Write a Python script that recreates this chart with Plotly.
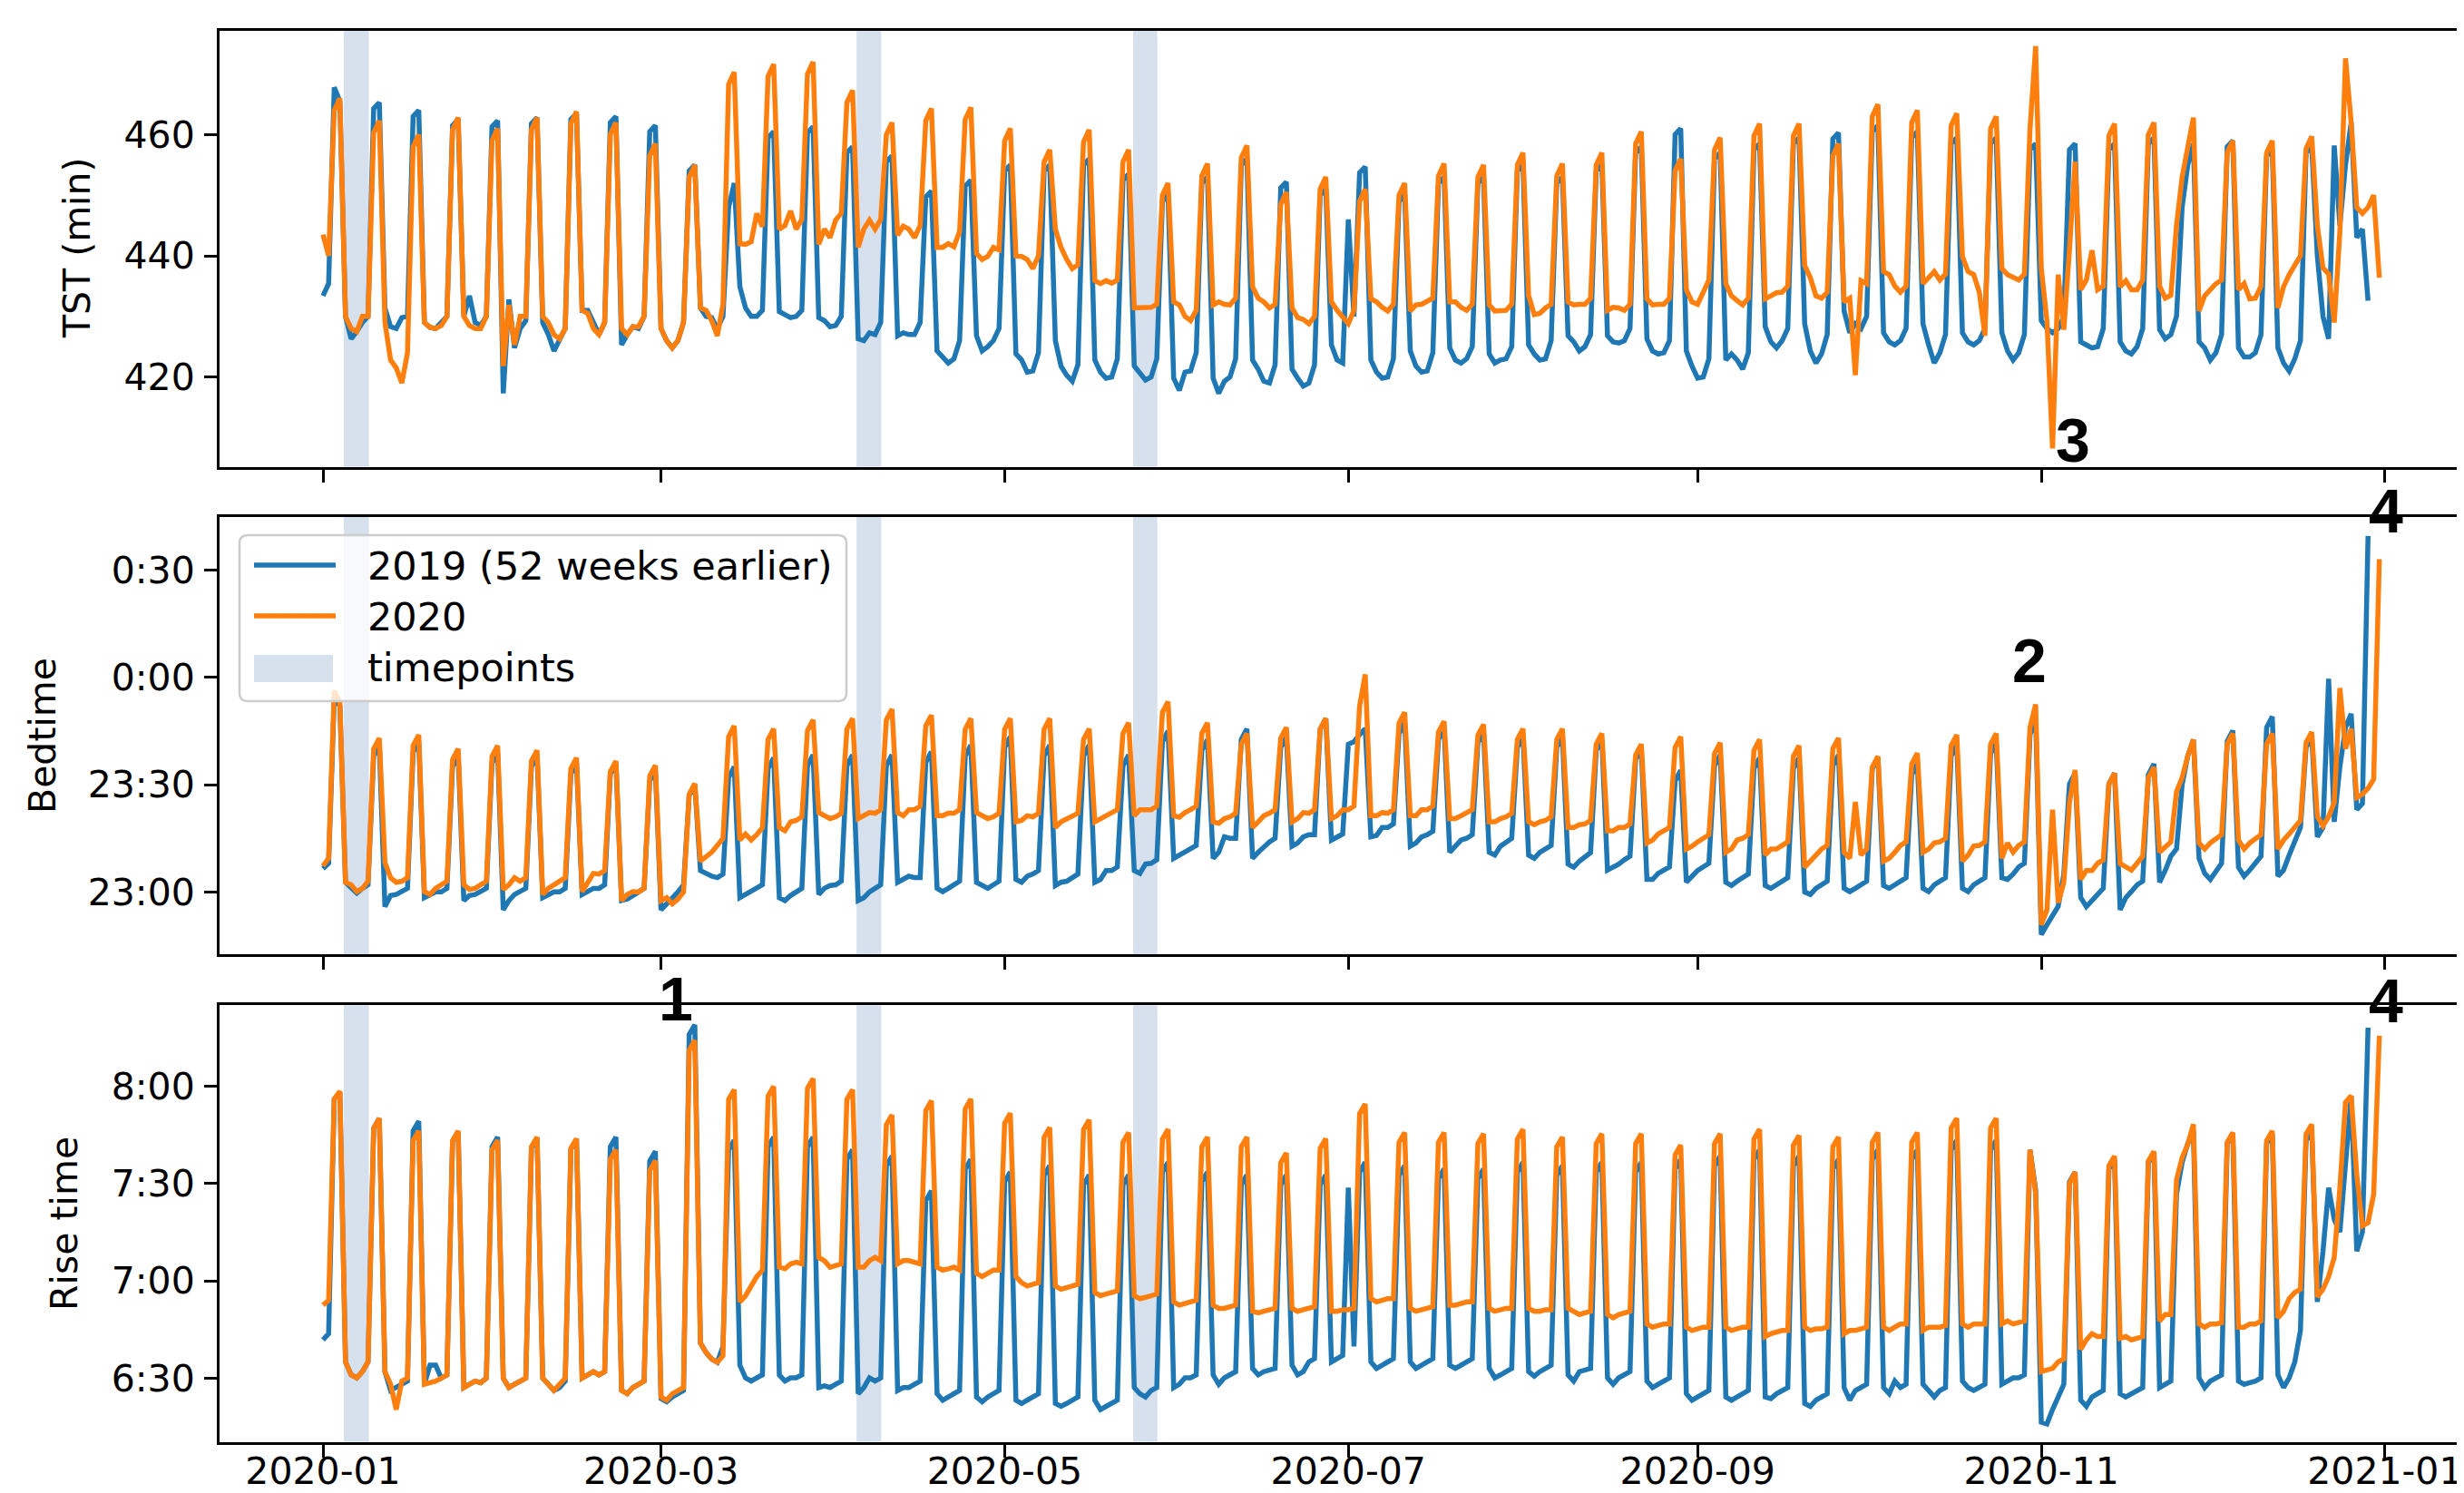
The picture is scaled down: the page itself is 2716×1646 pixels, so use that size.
import pandas as pd
import plotly.graph_objects as go

# ---------------- data (daily values, one row per week: Wed..Tue, starting 2020-01-01) -------------
START = "2020-01-01"

TST_2019 = [
    [433.4, 435.4, 467.8, 465.5, 430, 426.3, 427.5],
    [429, 430, 464.3, 465.3, 431.4, 428.3, 428],
    [429.8, 430, 463, 464, 429, 428.2, 428],
    [429, 430, 461.5, 462.5, 430, 433.4, 429],
    [428.5, 430, 461.3, 462.3, 417.3, 432.8, 424.8],
    [428, 429.3, 461.8, 462.8, 429, 427, 424.3],
    [426, 428, 462.5, 463.5, 431, 431, 429],
    [427, 429, 462, 463, 425.3, 427, 428.3],
    [428, 430, 460.5, 461.5, 428, 426, 424.8],
    [426, 429, 454, 455, 431.4, 430, 429.8],
    [428, 430, 448, 452, 434.9, 431.4, 430],
    [430, 431, 459.5, 460.5, 430.8, 430.3, 429.8],
    [430, 431, 460.3, 461.3, 429.8, 429.3, 428.3],
    [428.5, 430, 457, 458, 426.3, 426, 427.3],
    [427, 429, 455.5, 456.5, 426.8, 427.3, 427],
    [427, 429, 449.7, 450.7, 424.3, 423.3, 422.3],
    [423, 426, 451.5, 452.5, 426.8, 424.3, 425],
    [426, 428, 454, 455, 423.8, 422.8, 420.8],
    [421, 424, 454, 455, 426, 421.8, 420.3],
    [419.3, 422, 455, 456, 422.8, 420.8, 419.8],
    [420, 423, 452.5, 453.5, 421.8, 420.8, 419.5],
    [420, 423, 449, 450, 419.8, 417.8, 420.8],
    [421, 424, 452, 453, 419.8, 417.3, 419.3],
    [420, 423, 455, 456, 422.8, 421.3, 419.3],
    [419, 422, 451.2, 452.2, 421.3, 419.8, 418.5],
    [419, 422, 450, 451, 425.3, 422.8, 422.3],
    [446, 430, 453.7, 454.7, 422.8, 420.8, 419.8],
    [420, 423, 449, 450, 424.3, 421.8, 420.8],
    [421, 424, 452, 453, 424.8, 422.8, 422.3],
    [423, 425, 452, 453, 423.8, 422.3, 422.8],
    [423, 425, 454, 455, 425.3, 423.8, 422.8],
    [423, 426, 452, 453, 426.8, 425.8, 424.3],
    [425, 427, 454, 455, 426.8, 425.8, 425.6],
    [426, 428, 457, 458, 426.3, 424.3, 423.8],
    [424, 426, 460, 461, 424.3, 421.8, 419.8],
    [420, 423, 456, 457, 422.8, 423.8, 422.8],
    [421.3, 424, 457.5, 458.5, 428.3, 425.8, 424.8],
    [426, 428, 458.5, 459.5, 428.8, 424.3, 422.3],
    [423.8, 427, 459.3, 460.3, 430.9, 427.3, 428.8],
    [428, 430, 460.5, 461.5, 427.3, 425.8, 425.3],
    [426, 428, 459.5, 460.5, 428.8, 425.3, 422.3],
    [424, 427, 458.5, 459.5, 427.3, 425.8, 425.3],
    [426, 428, 458.5, 459.5, 427.3, 424.3, 422.8],
    [424, 427, 457.5, 458.5, 429.3, 428, 427.3],
    [428, 430, 457.5, 458.5, 425.8, 425.3, 424.8],
    [425, 428, 457.5, 458.5, 425.8, 424.3, 423.8],
    [425, 428, 458.5, 459.5, 427.8, 426.3, 427],
    [430, 448, 455, 458.5, 425.8, 424.8, 422.8],
    [424, 427, 458, 459, 424.8, 423.3, 423.3],
    [424, 427, 456.5, 457.5, 424.8, 422.3, 421],
    [423, 426, 457, 458, 440, 430, 426.3],
    [458.2, 445, 455, 462, 443, 444.4, 432.6],
]

TST_2020 = [
    [443.5, 440, 464, 466, 430, 428, 427.5],
    [430, 430, 460.3, 462.3, 429, 422.8, 421.5],
    [419, 424, 458, 460, 429, 428.2, 428],
    [428.5, 430, 460.8, 462.8, 430, 428.5, 428],
    [428, 430, 459, 461, 421.8, 431.9, 425.3],
    [430, 430, 460.8, 462.8, 430, 429, 427],
    [426.3, 428, 461.8, 463.8, 431, 430.5, 428],
    [427, 429, 460, 462, 428, 427, 428.3],
    [428.3, 430, 456.5, 458.5, 428, 426, 424.8],
    [426, 429, 453, 455, 431.4, 431, 429.3],
    [426.8, 432, 468.3, 470.3, 442, 441.9, 442.3],
    [447, 444.8, 469.6, 471.6, 444.4, 445, 447.4],
    [444.4, 446, 470, 472, 441.9, 444.4, 443],
    [445.9, 447, 465.3, 467.3, 441.4, 444.4, 445.9],
    [444.4, 446, 460, 462, 443.4, 444.9, 444.4],
    [443, 445, 462.3, 464.3, 441.4, 441.4, 442],
    [441.5, 444, 462.5, 464.5, 440.4, 439.4, 439.9],
    [441.4, 441, 459, 461, 440, 439.9, 439.4],
    [437.9, 440, 455.5, 457.5, 444.4, 441.4, 439.4],
    [437.9, 438.5, 458.8, 460.8, 435.9, 435.4, 435.9],
    [435.5, 436, 455.5, 457.5, 431.4, 431.4, 431.6],
    [431.5, 432, 450, 452, 432.4, 431.9, 430],
    [429.3, 431, 453.2, 455.2, 431.9, 432.4, 432],
    [431.9, 433, 456.2, 458.2, 434.9, 433, 432.4],
    [431.4, 432, 448.5, 450.5, 431.4, 429.8, 429.5],
    [428.8, 430, 451, 453, 432.4, 431, 430],
    [428.8, 431, 449, 451, 432.9, 432.4, 431.5],
    [430.9, 432, 450, 452, 430.9, 431.9, 432],
    [432.4, 433, 453.2, 455.2, 432.4, 432.4, 431.5],
    [431, 432, 453, 455, 431.9, 430.9, 431],
    [431, 432, 455, 457, 433.4, 430.3, 430.5],
    [431.4, 432, 453.2, 455.2, 432.4, 431.9, 432],
    [432, 433, 455, 457, 431, 431.5, 431.4],
    [431, 432, 458.5, 460.5, 432.9, 431.9, 432],
    [432, 433, 454, 456, 434.4, 432.4, 432],
    [434, 436, 457.5, 459.5, 435.4, 433.4, 432.6],
    [431.9, 433, 459.8, 461.8, 432.9, 433.4, 433.9],
    [434, 435, 459.8, 461.8, 438.4, 436.4, 433.4],
    [433, 434, 456.5, 458.5, 432.4, 433, 420.3],
    [435.9, 435.4, 463, 465, 437.4, 436.9, 435],
    [434, 435, 462, 464, 435.4, 436.4, 437.4],
    [436, 437, 461.5, 463.5, 439.9, 437.4, 436.9],
    [434, 426.8, 461, 463, 437.9, 436.9, 436.4],
    [436, 437, 461, 474.6, 437.9, 429.3, 408.2],
    [436.9, 427.8, 441, 455.5, 434.4, 436, 440.9],
    [434.4, 435, 459.8, 461.8, 434.9, 435.9, 434.4],
    [434.4, 436, 460, 462, 435, 433, 433.5],
    [445, 453, 458, 462.8, 430.9, 433.4, 434.4],
    [435.4, 436, 457, 459, 434.4, 435.4, 432.9],
    [433, 435, 457, 459, 431.4, 434.9, 436.9],
    [438.4, 440, 457.7, 459.7, 445, 438, 437],
    [429, 444, 472.6, 462, 448, 447, 448],
    [450, 436.4],
]

# bedtime in minutes relative to midnight (negative = before 0:00)
BED_2019 = [
    [-53.5, -52, -6, -8, -57.3, -59, -60.3],
    [-59, -58, -22, -19, -64.1, -61, -60.7],
    [-60, -59, -21, -18, -61.6, -60.7, -60],
    [-60, -59, -25, -22, -62.4, -61, -60.7],
    [-60, -59, -24, -21, -65, -62.4, -60.7],
    [-60, -59, -25, -22, -61.6, -60.7, -60],
    [-60, -59, -27, -24, -60.7, -59.9, -59],
    [-59, -58, -27, -24, -62.4, -62, -61],
    [-60, -59, -29, -26, -65, -63.3, -62],
    [-60, -58, -33, -30, -54, -54.8, -55.6],
    [-56, -55, -28, -25, -61.6, -60.7, -60],
    [-59, -58, -25.5, -22.5, -61.6, -62.4, -61],
    [-60, -59, -24.7, -21.7, -60.7, -59, -58.2],
    [-58, -57, -24.7, -21.7, -62.4, -61.6, -60],
    [-59, -58, -24.7, -21.7, -57.3, -56.5, -55.6],
    [-56, -56, -23.8, -20.8, -59, -59.9, -59],
    [-58, -57, -22, -19, -57.3, -58.2, -59],
    [-58, -57, -19.6, -16.6, -56.5, -57.3, -55.6],
    [-55, -54, -22, -19, -58.2, -57.3, -57],
    [-56, -55, -22, -19, -57.3, -56.5, -54],
    [-54, -53, -24.7, -21.7, -54, -54.8, -52.2],
    [-52, -51, -18, -15, -50.6, -49.7, -48.9],
    [-48, -47, -20.4, -17.4, -50.6, -48.9, -44.6],
    [-45, -45, -17.4, -14.4, -50.6, -48.9, -47.2],
    [-46, -45, -19.6, -16.6, -47.2, -46.3, -44.6],
    [-44, -44, -14.5, -11.5, -45.5, -44.6, -43.8],
    [-18.7, -18, -16, -14.4, -44.6, -44.2, -42],
    [-42, -41, -15.7, -12.7, -47.2, -46.3, -44.6],
    [-44, -43, -17.4, -14.4, -48.9, -47.2, -45.5],
    [-45, -44, -18.3, -15.3, -48.9, -49.7, -47.2],
    [-46, -45, -19.6, -16.6, -49.7, -50.6, -48.9],
    [-48, -47, -19.6, -16.6, -52.2, -53.1, -51.4],
    [-50, -49, -20.4, -17.4, -53.9, -53.1, -52.2],
    [-51, -50, -23, -20, -56.5, -56.5, -54.8],
    [-54, -53, -29, -26, -57.3, -55.6, -54],
    [-53, -52, -24.7, -21.7, -57.3, -58.2, -57],
    [-56, -55, -25.5, -22.5, -58.2, -59, -58],
    [-57, -56, -25.5, -22.5, -60, -60.7, -59],
    [-58, -57, -24.7, -21.7, -59, -59.9, -59],
    [-58, -57, -25.5, -22.5, -58.2, -59, -58],
    [-57, -56, -27.2, -24.2, -59, -59.9, -58],
    [-57, -56, -22, -19, -59, -59.9, -58],
    [-57, -56, -21.3, -18.3, -56, -56.5, -55],
    [-53, -52, -16, -11.5, -71.9, -69.2, -66.7],
    [-64, -55, -29.8, -26.8, -61.6, -64.1, -62.4],
    [-61, -59, -29.8, -26.8, -65, -61.6, -59.9],
    [-58, -57, -27.2, -24.2, -57.3, -54, -50],
    [-48, -30, -22, -17.4, -50.6, -54.8, -56.5],
    [-54, -52, -17.9, -14.9, -53.1, -55.6, -53.9],
    [-52, -50, -14, -11, -55.6, -53.9, -49.7],
    [-45.5, -42, -19.6, -16.6, -44.6, -42, -0.4],
    [-40.4, -25, -14, -10.2, -37, -35.3, 39.5],
]

BED_2020 = [
    [-52.7, -50.6, -3.8, -7, -57.3, -58, -59.9],
    [-59, -57, -20, -17, -51.8, -56, -57.3],
    [-57, -56, -19.1, -16.1, -59.9, -60.7, -59],
    [-58, -57, -23, -20, -58, -59.3, -59],
    [-58, -57, -22.1, -19.1, -59.3, -58, -56],
    [-57, -56, -23.4, -20.4, -60.7, -59, -58],
    [-57, -56, -25.5, -22.5, -59.9, -57.3, -54.8],
    [-55, -54, -26.4, -23.4, -62.4, -60.7, -59.9],
    [-60, -59, -27.6, -24.6, -62.4, -61.6, -63.3],
    [-62, -60, -32.7, -29.7, -51.4, -50, -48.9],
    [-47, -45, -16.6, -13.6, -45.5, -43.8, -45.5],
    [-44, -42, -17.4, -14.4, -42, -42.9, -40.4],
    [-40, -39, -14.9, -11.9, -37.8, -38.7, -39.5],
    [-39, -38, -14.5, -11.5, -39.5, -38.7, -37.8],
    [-38, -37, -11.9, -8.9, -37.8, -38.7, -37],
    [-37, -36, -13.6, -10.6, -38.7, -38.7, -38],
    [-38, -37, -14.5, -11.5, -37.8, -38.7, -39.5],
    [-39, -38, -14.5, -11.5, -40.4, -40, -38.7],
    [-39, -38, -14.5, -11.5, -42, -40.4, -39.5],
    [-39, -38, -17.4, -14.4, -40.4, -39.5, -38.7],
    [-38, -37, -15.7, -12.7, -38.7, -37, -37],
    [-37, -36, -9.8, -6.8, -38.7, -39.1, -37.8],
    [-37, -36, -15.7, -12.7, -40.4, -40.8, -39.5],
    [-39, -38, -18.7, -15.7, -42, -40.4, -38.7],
    [-38, -37, -17, -14, -40.4, -39.5, -37.8],
    [-38, -37, -14.5, -11.5, -39.5, -38.7, -37],
    [-37, -36, -8, 0.8, -38.7, -38.7, -37.8],
    [-38, -37, -12.8, -9.8, -38.7, -38.7, -37],
    [-37, -36, -15.3, -12.3, -39.5, -39.5, -38.7],
    [-38, -37, -16.2, -13.2, -40.4, -40.4, -39.5],
    [-39, -38, -17.4, -14.4, -40.4, -41.2, -40.4],
    [-40, -39, -17.4, -14.4, -42, -42, -41.2],
    [-41, -40, -18.7, -15.7, -42.9, -42.9, -42],
    [-42, -41, -21.7, -18.7, -46.3, -45.5, -43.8],
    [-43, -42, -19.6, -16.6, -48, -47.2, -46],
    [-45, -44, -21.3, -18.3, -48.9, -48, -45.5],
    [-45, -44, -20.4, -17.4, -49.7, -48, -48],
    [-47, -46, -22.1, -19.1, -53.1, -51.4, -49.7],
    [-48, -47, -20, -17, -48.9, -50.6, -34.8],
    [-49.7, -48, -25.1, -22.1, -51.4, -50.6, -48.9],
    [-47, -46, -24.2, -21.2, -48.9, -48, -46.3],
    [-46, -45, -19.1, -16.1, -51.4, -49.7, -47.2],
    [-47, -46, -18.7, -15.7, -50.6, -46.3, -48.9],
    [-47, -46, -14, -7.6, -69.2, -65, -37],
    [-63, -57.3, -35, -25.9, -56.5, -54, -54],
    [-52, -51, -29.8, -26.8, -52.1, -53, -53.9],
    [-52, -50, -28.1, -25.1, -48.9, -47.2, -46],
    [-32, -28, -22, -17.4, -46.3, -48, -46.3],
    [-45, -44, -18.7, -15.7, -45.5, -48, -46.3],
    [-45, -44, -18.7, -15.7, -48, -45.5, -43.8],
    [-42, -40, -18.3, -15.3, -38.9, -41.5, -39],
    [-35, -3, -20, -14.4, -33.6, -32.7, -31],
    [-28.5, 33],
]

# rise time in minutes after midnight
RISE_2019 = [
    [401.8, 403.7, 476, 478, 395, 391, 390.1],
    [392, 395, 467, 470, 392, 386.2, 387.1],
    [388.1, 389.1, 466.2, 469.2, 388.1, 394, 394],
    [390, 391, 463, 466, 387.1, 388.1, 389.1],
    [388.6, 390, 461.3, 464.3, 390, 387.1, 388.1],
    [389.1, 390, 461, 464, 390, 388.1, 386.2],
    [387.1, 389.1, 460.5, 463.5, 390, 391, 392],
    [391, 392, 461.3, 464.3, 386.2, 385.2, 387.1],
    [388.1, 389.1, 456.9, 459.9, 383.7, 382.7, 384.2],
    [385.2, 386.2, 495.9, 498.9, 400.8, 397.9, 395.9],
    [394.9, 399.8, 460.3, 463.3, 394, 390.1, 389.1],
    [390.1, 391, 461.3, 464.3, 391, 389.1, 390.1],
    [390.1, 391, 461.3, 464.3, 387.1, 387.6, 387.1],
    [388.1, 389.1, 457.4, 460.4, 385.2, 387.1, 390.1],
    [389.1, 390.1, 455.4, 458.4, 386.2, 387.1, 387.1],
    [388.1, 389.1, 444.7, 447.7, 385.2, 383.2, 384.2],
    [385.2, 386.2, 454.4, 457.4, 384.2, 382.7, 384.2],
    [385.2, 386.2, 450.5, 453.5, 383.2, 382.2, 383.2],
    [384.2, 385.2, 452.5, 455.5, 382.2, 381.3, 382.2],
    [383.2, 384.2, 449.6, 452.6, 383.2, 380.3, 381.3],
    [382.2, 383.2, 449.6, 452.6, 387.1, 385.2, 384.2],
    [386.2, 387.1, 453.5, 456.5, 387.1, 388.1, 390.1],
    [390.1, 391, 450.5, 453.5, 391, 388.1, 390.1],
    [391, 392, 449.6, 452.6, 393, 391, 392],
    [392.5, 393, 449.6, 452.6, 394, 391, 392],
    [395, 396, 449.6, 452.6, 395, 396, 397],
    [448.7, 399.8, 453.5, 456.5, 395, 393, 394],
    [395, 396, 452.5, 455.5, 395, 393, 394],
    [395, 396, 451.5, 454.5, 394, 393, 394],
    [395, 396, 451.5, 454.5, 393, 390.1, 391],
    [392, 393, 453.5, 456.5, 392, 390.6, 392],
    [393, 394, 452.5, 455.5, 391, 389.1, 392],
    [392.5, 393, 453.5, 456.5, 390.1, 388.1, 390.1],
    [391, 392, 453.5, 456.5, 389.1, 387.1, 388.1],
    [389.1, 390.1, 454.4, 457.4, 385.2, 383.2, 384.2],
    [385.2, 386.2, 455.4, 458.4, 384.2, 383.2, 384.2],
    [385.2, 386.2, 457.4, 460.4, 384.2, 383.7, 385.2],
    [386.2, 387.1, 455.4, 458.4, 382.2, 381.3, 383.2],
    [384.2, 385.2, 454.4, 457.4, 387.1, 383.2, 386.2],
    [387.1, 388.1, 457.4, 460.4, 387.1, 385.2, 389.1],
    [387.1, 388.1, 457.4, 460.4, 388.1, 386.2, 384.2],
    [386.2, 387.1, 460.3, 463.3, 389.1, 387.1, 386.2],
    [387.1, 388.1, 460.3, 463.3, 388.1, 389.1, 390.1],
    [390.1, 391, 460.4, 448, 376.4, 375.9, 380.3],
    [384.2, 388.1, 450.5, 453.5, 383.2, 381.3, 384.2],
    [385.2, 386.2, 454.4, 457.4, 385.2, 384.2, 385.2],
    [386.2, 387.1, 456.4, 459.4, 387.1, 388.1, 389.1],
    [446.7, 456.5, 462.3, 466.2, 390.1, 387.1, 389.1],
    [390.1, 391, 462.3, 465.3, 389.1, 388.1, 388.6],
    [389.1, 390.1, 462.3, 465.3, 391, 387.1, 390.1],
    [395, 404.7, 463.2, 466.2, 413.5, 429.1, 448.7],
    [438.9, 435, 458.4, 477, 429.1, 435, 498],
]

RISE_2020 = [
    [412.5, 414, 476, 478.4, 395, 391, 390.1],
    [392, 395, 467, 470.1, 392, 388.1, 380.3],
    [389.1, 390, 463.2, 466.2, 388.1, 388.6, 389.1],
    [390, 391, 463.2, 466.2, 387.1, 388.1, 389.1],
    [388.6, 390, 460.3, 463.3, 390, 387.1, 388.1],
    [389.1, 390, 461.3, 464.3, 390, 388.1, 386.2],
    [388.1, 390, 460.8, 463.8, 390, 391, 392],
    [391, 392, 457.4, 460.4, 386.2, 385.2, 387.1],
    [388.1, 389.1, 454, 457, 384.2, 383.2, 385.2],
    [386.2, 387.1, 491, 494.1, 400.8, 397.9, 395.9],
    [394.9, 396.9, 475.9, 478.9, 413.5, 415.4, 418.4],
    [421.3, 423.3, 476.9, 479.9, 424.2, 423.7, 425.2],
    [425.7, 425.2, 479.3, 482.3, 427.2, 426.2, 424.2],
    [424.7, 425.2, 475.9, 478.9, 424.2, 424.2, 426.2],
    [427.2, 426.2, 468.1, 471.1, 425.2, 426.2, 426.2],
    [425.7, 425.2, 472.5, 475.5, 424.2, 423.3, 423.7],
    [424.2, 423.3, 473, 476, 422.3, 421.3, 422.3],
    [423.3, 423.3, 468.6, 471.6, 421.3, 419.4, 418.4],
    [418.9, 419.4, 464.2, 467.2, 418.4, 417.4, 417.9],
    [418.4, 418.9, 466.6, 469.6, 416.4, 415.4, 415.9],
    [416.4, 416.9, 462.7, 465.7, 415.4, 414.5, 414.9],
    [415.4, 415.9, 463.7, 466.7, 413.5, 412.5, 413],
    [413.5, 414, 461.3, 464.3, 412.5, 411.5, 411.5],
    [412, 412.5, 461.3, 464.3, 410.6, 410.1, 410.6],
    [411.1, 411.5, 456.4, 459.4, 411.5, 410.6, 411.1],
    [411.5, 412, 460.8, 463.8, 410.6, 410.6, 411.1],
    [411.1, 411.5, 471.5, 474.5, 414.5, 413.5, 414],
    [414.5, 414.5, 462.7, 465.7, 411.5, 410.6, 411.1],
    [411.5, 412, 462.7, 465.7, 412.5, 412.5, 413],
    [413.5, 413.5, 462.3, 465.3, 411.5, 410.6, 411.1],
    [411.5, 411.5, 463.7, 466.7, 411.5, 410.6, 410.6],
    [411.1, 411.1, 461.3, 464.3, 411.5, 410.6, 409.6],
    [410.1, 410.6, 462.3, 465.3, 409.6, 408.6, 409.6],
    [410.1, 410.6, 462.3, 465.3, 406.7, 405.7, 406.2],
    [406.7, 406.7, 458.8, 461.8, 405.7, 404.7, 405.2],
    [405.7, 405.7, 462.3, 465.3, 405.7, 404.7, 405.2],
    [405.7, 405.7, 463.7, 466.7, 402.8, 403.7, 404.2],
    [404.7, 404.7, 461.8, 464.8, 405.7, 404.7, 405.2],
    [405.2, 405.7, 461.3, 464.3, 403.7, 404.7, 404.7],
    [405.2, 405.7, 462.7, 465.7, 405.7, 404.7, 405.7],
    [406.7, 406.7, 462.7, 465.7, 404.7, 405.7, 405.7],
    [405.7, 406.2, 467.1, 470.1, 406.7, 405.7, 406.7],
    [406.7, 406.7, 467.1, 470.1, 406.7, 407.6, 406.7],
    [407.1, 407.6, 460.4, 447, 392, 392.5, 393],
    [395, 395.9, 450, 453.5, 398.9, 401.8, 403.7],
    [402.8, 402.8, 455.4, 458.4, 402.3, 402.8, 401.8],
    [402.3, 402.8, 456.9, 459.9, 407.6, 409.6, 409.6],
    [451.1, 458, 462, 468.2, 406.7, 405.7, 406.7],
    [406.7, 407.1, 462.7, 465.7, 405.7, 405.7, 406.7],
    [406.7, 407.6, 463.2, 466.2, 408.6, 410.6, 414.5],
    [416.4, 417.4, 465.2, 468.2, 415, 417.4, 421.3],
    [427.2, 448.7, 475, 477, 452.6, 436.9, 437.9],
    [446.7, 495.5],
]

TIMEPOINTS = [  # shaded study timepoints (start, end)
    ("2020-01-04 16:48", "2020-01-09 03:36"),
    ("2020-04-04 16:48", "2020-04-09 02:24"),
    ("2020-05-23 19:12", "2020-05-28 02:24"),
]

X_TICKS = ["2020-01-01", "2020-03-01", "2020-05-01", "2020-07-01",
           "2020-09-01", "2020-11-01", "2021-01-01"]
X_TICKTEXT = ["2020-01", "2020-03", "2020-05", "2020-07", "2020-09", "2020-11", "2021-01"]

TST_TICKS = [420, 440, 460]
BED_TICKS = [-60, -30, 0, 30]
BED_TICKTEXT = ["23:00", "23:30", "0:00", "0:30"]
RISE_TICKS = [390, 420, 450, 480]
RISE_TICKTEXT = ["6:30", "7:00", "7:30", "8:00"]

LABEL_2019 = "2019 (52 weeks earlier)"
LABEL_2020 = "2020"
LABEL_TP = "timepoints"

# ---------------- figure ----------------
# the page body keeps an 8px default margin, so the figure is 8px smaller
# and every page-pixel position below is converted accordingly
BODY = 8
PAGE_W, PAGE_H = 2716, 1646
W, H = PAGE_W - BODY, PAGE_H - BODY
ML = 242 - BODY
PW = W - ML
BLUE = "#1f77b4"
ORANGE = "#ff7f0e"
BAND = "rgba(176,196,222,0.5)"
FONT = "DejaVu Sans"
FS = 41
LFS = 43
LW = 5.5


def flat(rows):
    return [v for row in rows for v in row]


def days(n):
    return pd.date_range(START, periods=n, freq="D")


def px_y(p):  # page pixel (from top) -> paper fraction
    return (PAGE_H - p) / H


def px_x(p):  # page pixel (from left) -> paper fraction
    return (p - BODY - ML) / PW


panels = [
    (TST_2019, TST_2020, "x", "y"),
    (BED_2019, BED_2020, "x2", "y2"),
    (RISE_2019, RISE_2020, "x3", "y3"),
]

fig = go.Figure()
for b, o, xa, ya in panels:
    yb = flat(b)
    yo = flat(o)
    fig.add_trace(go.Scatter(x=days(len(yb)), y=yb, mode="lines", name=LABEL_2019,
                             line=dict(color=BLUE, width=LW), xaxis=xa, yaxis=ya,
                             showlegend=False))
    fig.add_trace(go.Scatter(x=days(len(yo)), y=yo, mode="lines", name=LABEL_2020,
                             line=dict(color=ORANGE, width=LW), xaxis=xa, yaxis=ya,
                             showlegend=False))

# shaded timepoints
shapes = []
for xa, ya in [("x", "y"), ("x2", "y2"), ("x3", "y3")]:
    for s, e in TIMEPOINTS:
        shapes.append(dict(type="rect", xref=xa, yref=ya + " domain", x0=s, x1=e, y0=0, y1=1,
                           fillcolor=BAND, line=dict(width=0), layer="below"))


# legend drawn by hand (matplotlib-style box, long line samples, wide patch)
def rounded_box(x0, y0, x1, y1, r):
    X0, X1 = px_x(x0), px_x(x1)
    Y0, Y1 = px_y(y0), px_y(y1)  # Y0 top, Y1 bottom
    rx = r / PW
    ry = r / H
    return (f"M{X0 + rx},{Y0} L{X1 - rx},{Y0} Q{X1},{Y0} {X1},{Y0 - ry} "
            f"L{X1},{Y1 + ry} Q{X1},{Y1} {X1 - rx},{Y1} L{X0 + rx},{Y1} "
            f"Q{X0},{Y1} {X0},{Y1 + ry} L{X0},{Y0 - ry} Q{X0},{Y0} {X0 + rx},{Y0} Z")


shapes.append(dict(type="path", xref="paper", yref="paper", path=rounded_box(264, 590, 933, 773, 9),
                   fillcolor="rgba(255,255,255,0.8)", line=dict(color="#cccccc", width=2.5),
                   layer="above"))
shapes.append(dict(type="line", xref="paper", yref="paper", x0=px_x(280), x1=px_x(370),
                   y0=px_y(623), y1=px_y(623), line=dict(color=BLUE, width=LW), layer="above"))
shapes.append(dict(type="line", xref="paper", yref="paper", x0=px_x(280), x1=px_x(370),
                   y0=px_y(679), y1=px_y(679), line=dict(color=ORANGE, width=LW), layer="above"))
shapes.append(dict(type="rect", xref="paper", yref="paper", x0=px_x(280), x1=px_x(367),
                   y0=px_y(752), y1=px_y(722), fillcolor=BAND, line=dict(width=0),
                   layer="above"))

XR = ["2019-12-13 15:22", "2021-01-15 00:43"]
common_x = dict(range=XR, type="date", tickvals=X_TICKS, ticktext=X_TICKTEXT,
                showline=True, linecolor="black", linewidth=3, mirror=True,
                ticks="outside", ticklen=14, tickwidth=3, tickcolor="black",
                showgrid=False, zeroline=False, automargin=False,
                tickfont=dict(family=FONT, size=FS, color="black"))
common_y = dict(showline=True, linecolor="black", linewidth=3, mirror=False,
                ticks="outside", ticklen=14, tickwidth=3, tickcolor="black",
                showgrid=False, zeroline=False, automargin=False,
                tickfont=dict(family=FONT, size=FS, color="black"),
                ticklabelstandoff=2)

fig.update_layout(
    width=W, height=H,
    margin=dict(l=ML, r=0, t=0, b=0, pad=0),
    paper_bgcolor="white", plot_bgcolor="white",
    font=dict(family=FONT, size=FS, color="black"),
    showlegend=False,
    xaxis=dict(common_x, domain=[0, 1], anchor="y", showticklabels=False),
    xaxis2=dict(common_x, domain=[0, 1], anchor="y2", matches="x", showticklabels=False),
    xaxis3=dict(common_x, domain=[0, 1], anchor="y3", matches="x", showticklabels=True,
                ticklabelstandoff=-20),
    yaxis=dict(common_y, domain=[px_y(514.5), px_y(33.5)], anchor="x",
               range=[405.2, 477.2], tickvals=TST_TICKS),
    yaxis2=dict(common_y, domain=[px_y(1052), px_y(570)], anchor="x2",
                range=[-77.4, 44.8], tickvals=BED_TICKS, ticktext=BED_TICKTEXT),
    yaxis3=dict(common_y, domain=[px_y(1589.5), px_y(1108.3)], anchor="x3",
                range=[370.4, 504.9], tickvals=RISE_TICKS, ticktext=RISE_TICKTEXT),
    shapes=shapes,
)

annotations = []
for text, cx, cy in [("TST (min)", 85, 274), ("Bedtime", 47, 811), ("Rise time", 71, 1349)]:
    annotations.append(dict(text=text, xref="paper", yref="paper", x=px_x(cx), y=px_y(cy),
                            xanchor="center", yanchor="middle", textangle=-90, showarrow=False,
                            font=dict(family=FONT, size=FS, color="black")))
for text, cy in [(LABEL_2019, 624), (LABEL_2020, 680), (LABEL_TP, 736)]:
    annotations.append(dict(text=text, xref="paper", yref="paper", x=px_x(403), y=px_y(cy),
                            xanchor="left", yanchor="middle", showarrow=False,
                            font=dict(family=FONT, size=LFS, color="black")))
for text, cx, cy in [("1", 745, 1101), ("2", 2237, 728), ("3", 2285, 485),
                     ("4", 2630, 563), ("4", 2630, 1103)]:
    annotations.append(dict(text=text, xref="paper", yref="paper", x=px_x(cx), y=px_y(cy),
                            xanchor="center", yanchor="middle", showarrow=False,
                            font=dict(family="Liberation Sans", size=68, color="black",
                                      weight="bold")))
fig.update_layout(annotations=annotations)

fig.write_html("out.html")
